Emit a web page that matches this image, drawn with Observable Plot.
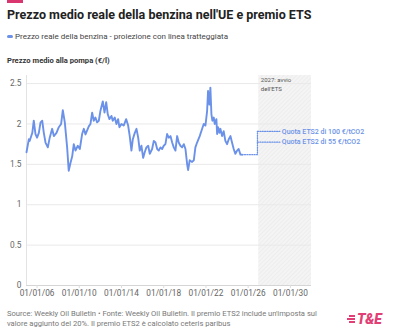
<!DOCTYPE html>
<html>
<head>
<meta charset="utf-8">
<script src="https://cdn.jsdelivr.net/npm/d3@7"></script>
<script src="https://cdn.jsdelivr.net/npm/@observablehq/plot@0.6"></script>
<style>
  html, body { margin: 0; padding: 0; background: #fff; }
  #wrap { position: relative; width: 398px; height: 336px; font-family: Roboto, "Noto Sans", sans-serif; overflow: hidden; }
  .abs { position: absolute; white-space: nowrap; }
  #bar { left: 7px; top: 0; width: 16px; height: 3px; background: #d9366f; }
  #title { left: 7px; top: 7px; font-size: 12.5px; font-weight: 700; color: #222; }
  #legend { left: 7px; top: 32px; font-size: 8px; color: #444; display: flex; align-items: center; }
  #legend .sw { width: 6px; height: 3px; border-radius: 2px; background: #6b92e8; margin-right: 2px; }
  #ytitle { left: 7px; top: 56px; font-size: 7.6px; font-weight: 700; color: #333; }
  #chart { left: 0; top: 70px; }
  #foot { left: 7px; top: 309px; font-size: 7.6px; color: #777; line-height: 9.5px; }
  #logo { left: 347px; top: 311px; display: flex; align-items: center; }
  #logo .st { display: flex; flex-direction: column; gap: 1.5px; margin-right: 2px; align-items: flex-end; }
  #logo .st div { height: 1.5px; background: #e23f76; }
  #logo .tx { font-size: 14px; font-weight: 900; font-style: italic; color: #e23f76; letter-spacing: -0.3px; }
</style>
</head>
<body>
<div id="wrap">
  <div id="bar" class="abs"></div>
  <div id="title" class="abs">Prezzo medio reale della benzina nell'UE e premio ETS</div>
  <div id="legend" class="abs"><span class="sw"></span>Prezzo reale della benzina - proiezione con linea tratteggiata</div>
  <div id="ytitle" class="abs">Prezzo medio alla pompa (€/l)</div>
  <div id="chart" class="abs"></div>
  <div id="foot" class="abs">Source: Weekly Oil Bulletin • Fonte: Weekly Oil Bulletin. Il premio ETS2 include un'imposta sul<br>valore aggiunto del 20%. Il premio ETS2 è calcolato ceteris paribus</div>
  <div id="logo" class="abs"><div class="st"><div style="width:6px"></div><div style="width:8px"></div><div style="width:6px"></div></div><span class="tx">T&amp;E</span></div>
</div>
<script>
const years = [
  2005.0, 2005.22, 2005.3, 2005.45, 2005.55, 2005.69, 2005.85, 2006.0, 2006.17, 2006.33,
  2006.49, 2006.64, 2006.8, 2007.02, 2007.2, 2007.43, 2007.59, 2007.84, 2008.06, 2008.28,
  2008.44, 2008.63, 2008.85, 2009.0, 2009.17, 2009.33, 2009.48, 2009.64, 2009.86, 2010.05,
  2010.27, 2010.43, 2010.59, 2010.9, 2011.06, 2011.22, 2011.37, 2011.53, 2011.69, 2011.85,
  2012.0, 2012.23, 2012.39, 2012.55, 2012.7, 2012.86, 2013.05, 2013.17, 2013.36, 2013.52,
  2013.68, 2013.8, 2013.99, 2014.21, 2014.44, 2014.63, 2014.78, 2014.94, 2015.07, 2015.26,
  2015.42, 2015.58, 2015.73, 2015.89, 2016.05, 2016.2, 2016.36, 2016.53, 2016.68, 2016.9,
  2017.06, 2017.22, 2017.38, 2017.53, 2017.69, 2017.85, 2018.0, 2018.16, 2018.32, 2018.48,
  2018.64, 2018.8, 2018.95, 2019.11, 2019.27, 2019.42, 2019.58, 2019.74, 2019.9, 2020.06,
  2020.22, 2020.31, 2020.46, 2020.69, 2020.85, 2021.0, 2021.16, 2021.41, 2021.64, 2021.79,
  2021.95, 2022.11, 2022.2, 2022.33, 2022.42, 2022.52, 2022.61, 2022.74, 2022.83, 2022.99,
  2023.06, 2023.15, 2023.28, 2023.37, 2023.53, 2023.68, 2023.84, 2024.0, 2024.16, 2024.32,
  2024.47, 2024.63, 2024.79, 2024.95, 2025.1, 2025.27, 2025.43
];
const prices = [
  1.65, 1.81, 1.79, 1.85, 1.89, 2.04, 1.875, 1.83, 1.89, 2.02,
  2.04, 1.89, 1.77, 1.71, 1.83, 1.94, 1.85, 1.89, 1.96, 2.00,
  2.17, 2.02, 1.71, 1.42, 1.52, 1.60, 1.75, 1.67, 1.73, 1.69,
  1.875, 1.94, 1.87, 1.97, 2.00, 2.14, 2.04, 2.08, 2.02, 2.04,
  2.16, 2.28, 2.14, 2.27, 2.12, 2.06, 2.10, 2.04, 2.08, 2.00,
  2.06, 1.96, 2.00, 1.98, 2.06, 1.98, 1.85, 1.67, 1.81, 1.89,
  1.94, 1.83, 1.67, 1.73, 1.58, 1.65, 1.71, 1.73, 1.63, 1.69,
  1.79, 1.77, 1.69, 1.67, 1.71, 1.69, 1.73, 1.75, 1.875, 1.83,
  1.85, 1.77, 1.71, 1.67, 1.85, 1.77, 1.73, 1.71, 1.75, 1.69,
  1.50, 1.43, 1.55, 1.53, 1.55, 1.71, 1.77, 1.85, 1.94, 2.00,
  1.98, 2.16, 2.41, 2.24, 2.45, 2.12, 2.04, 2.08, 2.00, 2.06,
  1.875, 1.96, 1.89, 1.94, 1.85, 1.91, 1.79, 1.75, 1.81, 1.85,
  1.77, 1.69, 1.63, 1.67, 1.69, 1.62, 1.62
];
// Projection (dotted)
const projYears  = [2025.43, 2026.88, 2026.88];
const projPrices = [1.62, 1.62, 1.907];
const etsStart = 2026.88, etsEnd = 2029.0;
const etsLabels = ["Quota ETS2 di 100 €/tCO2", "Quota ETS2 di 55 €/tCO2"];
const etsPrices = [1.907, 1.774];
// ETS period shading
const shadeStart = 2027, shadeEnd = 2032;
const shadeNote = "2027: avvio\ndell'ETS";
// Axes
const tickYears = [2006, 2010, 2014, 2018, 2022, 2026, 2030];
const tickLabels = ["01/01/06", "01/01/10", "01/01/14", "01/01/18", "01/01/22", "01/01/26", "01/01/30"];
const yTicks = [0, 0.5, 1, 1.5, 2, 2.5];
const yLabels = ["0", "0.5", "1", "1.5", "2", "2.5"];

const blue = "#6b92e8";
const series = years.map((y, i) => ({year: y, price: prices[i]}));
const proj = projYears.map((y, i) => ({year: y, price: projPrices[i]}));
const branches = etsPrices.flatMap((p, i) => [{year: etsStart, price: p, k: i}, {year: etsEnd, price: p, k: i}]);
const labels = etsLabels.map((t, i) => ({year: etsEnd, price: etsPrices[i], t}));

const chart = Plot.plot({
  width: 398, height: 236,
  marginTop: 5, marginBottom: 21, marginLeft: 26, marginRight: 87,
  style: {fontFamily: "Roboto, sans-serif", fontSize: "8.3px", color: "#666", overflow: "visible", background: "transparent"},
  x: {domain: [2005, 2032]},
  y: {domain: [0, 2.6]},
  marks: [
    Plot.rect([{a: shadeStart, b: shadeEnd}], {x1: "a", x2: "b", y1: 0, y2: 2.6, fill: "url(#hatch)"}),
    Plot.ruleY(yTicks.slice(1), {stroke: "#e9e9e9", strokeWidth: 1}),
    Plot.ruleY([0], {stroke: "#d5d5d5"}),
    Plot.ruleX([2005], {stroke: "#e3e3e3"}),
    Plot.axisY({ticks: yTicks, tickFormat: (d, i) => yLabels[i], tickSize: 0, tickPadding: 5, fill: "#666", label: null}),
    Plot.axisX({ticks: tickYears, tickFormat: (d, i) => tickLabels[i], tickSize: 3, tickPadding: 2, stroke: "#ddd", fill: "#666", label: null}),
    Plot.text([shadeNote], {x: shadeStart + 0.2, y: 2.6, text: d => d, frameAnchor: null, textAnchor: "start", lineAnchor: "top", dy: 1, fontSize: 6, lineHeight: 1.4, fill: "#555"}),
    Plot.line(proj, {x: "year", y: "price", stroke: blue, strokeWidth: 1.3, strokeDasharray: "1,1.4"}),
    Plot.line(branches, {x: "year", y: "price", z: "k", stroke: blue, strokeWidth: 1.3, strokeDasharray: "1,1.4"}),
    Plot.line(series, {x: "year", y: "price", stroke: blue, strokeWidth: 1.9, strokeLinejoin: "round"}),
    Plot.text(labels, {x: "year", y: "price", text: "t", textAnchor: "start", dx: 2, fontSize: 7, fontWeight: 500, fill: blue})
  ]
});
d3.select(chart).insert("defs", ":first-child").html(
  '<pattern id="hatch" width="3" height="3" patternUnits="userSpaceOnUse" patternTransform="rotate(45)">' +
  '<rect width="3" height="3" fill="#f4f4f4"></rect><line x1="0" y1="0" x2="0" y2="3" stroke="#e6e6e6" stroke-width="1"></line></pattern>'
);
document.getElementById("chart").appendChild(chart);
</script>
</body>
</html>
